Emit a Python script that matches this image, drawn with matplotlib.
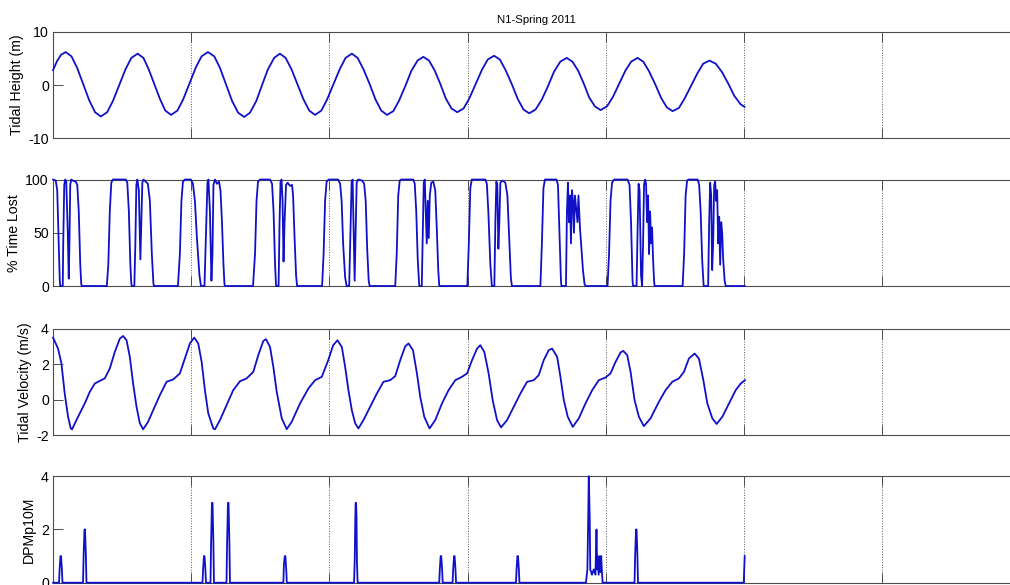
import numpy as np
import matplotlib
matplotlib.use('Agg')
from matplotlib import pyplot as plt

plt.rcParams['font.family'] = ['Liberation Sans', 'DejaVu Sans']
plt.rcParams['font.size'] = 10.2
plt.rcParams['axes.unicode_minus'] = False

# time axis in hours from start of record, 7 days shown, 5 days of data
day_ticks = np.arange(0, 169, 24)

# tidal height (m)
height_t = [0, 0.7, 1.4, 2.2, 3.2, 4.2, 5.25, 6.3, 7.3, 8.3, 9.4, 10.4, 11.5, 12.6, 13.6, 14.7,
            15.7, 16.6, 17.6, 18.6, 19.5, 20.5, 21.6, 22.6, 23.7, 24.8, 25.8, 26.9, 28.0, 29.0,
            30.05, 31.1, 32.15, 33.2, 34.2, 35.3, 36.3, 37.3, 38.4, 39.4, 40.4, 41.4, 42.45, 43.5,
            44.5, 45.5, 46.6, 47.6, 48.7, 49.8, 50.8, 51.9, 52.9, 53.9, 55.0, 56.0, 57.0, 58.0,
            59.1, 60.1, 61.2, 62.2, 63.3, 64.3, 65.3, 66.3, 67.3, 68.2, 69.2, 70.2, 71.3, 72.3,
            73.4, 74.5, 75.5, 76.6, 77.6, 78.6, 79.7, 80.7, 81.7, 82.7, 83.8, 84.9, 86.0, 87.0,
            88.1, 89.2, 90.2, 91.2, 92.2, 93.1, 94.1, 95.1, 96.2, 97.2, 98.3, 99.4, 100.4, 101.5,
            102.5, 103.5, 104.6, 105.6, 106.6, 107.6, 108.7, 109.7, 110.8, 111.9, 112.9, 114.0,
            115.1, 116.2, 117.3, 118.3, 119.4, 120.1]
height_m = [2.8, 4.5, 5.7, 6.2, 5.4, 3.2, 0.15, -2.9, -5.1, -5.9, -5.1, -3.0, 0.0, 3.0, 5.1, 5.9,
            5.1, 3.0, 0.15, -2.7, -4.8, -5.6, -4.8, -2.7, 0.3, 3.3, 5.4, 6.2, 5.4, 3.2,
            0.1, -3.0, -5.2, -6.0, -5.2, -3.0, 0.0, 2.9, 5.1, 5.9, 5.1, 3.0, 0.15, -2.7,
            -4.8, -5.6, -4.8, -2.7, 0.15, 3.0, 5.1, 5.9, 5.1, 3.0, 0.15, -2.7, -4.8, -5.6,
            -4.9, -2.9, -0.15, 2.6, 4.6, 5.3, 4.6, 2.7, 0.1, -2.5, -4.4, -5.1, -4.4, -2.5,
            0.2, 2.9, 4.8, 5.5, 4.8, 2.8, 0.1, -2.6, -4.6, -5.3, -4.6, -2.7, -0.1, 2.5,
            4.4, 5.1, 4.4, 2.7, 0.2, -2.3, -4.0, -4.7, -4.0, -2.3, 0.2, 2.7, 4.4, 5.1,
            4.4, 2.6, 0.1, -2.4, -4.2, -4.9, -4.3, -2.5, -0.15, 2.2, 4.0, 4.6,
            4.0, 2.4, 0.2, -2.0, -3.6, -4.1]

# percent of time lost
lost_t = [0.00, 0.47, 0.73, 0.99, 1.17, 1.25, 1.69, 1.77, 1.95, 2.12, 2.30, 2.56, 2.73, 2.85, 2.99, 3.17, 3.43, 3.95, 4.21, 4.47, 4.73, 4.90, 4.99,
          9.34, 9.60, 9.86, 10.12, 10.38, 12.64, 12.90, 13.17, 13.43, 13.60, 13.69, 14.12, 14.30, 14.47, 14.64, 14.90, 15.17, 15.34, 15.51, 15.69, 16.12, 16.47, 16.82, 17.16, 17.43, 17.51,
          21.69, 22.03, 22.30, 22.56, 22.90, 23.95, 24.30, 24.64, 24.99, 25.43, 25.69, 26.30, 26.56, 26.82, 26.99, 27.25, 27.51, 27.69, 27.86, 28.12, 28.47, 28.82, 29.08, 29.34, 29.60, 29.77, 29.86,
          34.73, 35.08, 35.34, 35.60, 35.95, 37.69, 38.04, 38.30, 38.56, 38.73, 39.17, 39.34, 39.51, 39.69, 39.86, 40.03, 40.21, 40.47, 40.73, 41.17, 41.51, 41.69, 41.95, 42.21, 42.38,
          46.73, 46.99, 47.25, 47.51, 47.86, 49.51, 49.86, 50.12, 50.38, 50.73, 50.99, 51.43, 51.69, 51.86, 52.03, 52.21, 52.38, 52.56, 52.73, 52.99, 53.69, 54.03, 54.30, 54.56, 54.82, 54.99,
          59.43, 59.69, 59.95, 60.21, 60.47, 62.56, 62.82, 63.08, 63.34, 63.60, 64.04, 64.21, 64.38, 64.56, 64.73, 64.90, 65.08, 65.25, 65.43, 65.69, 66.04, 66.38, 66.64, 66.90, 67.08,
          71.95, 72.21, 72.47, 72.73, 75.08, 75.34, 75.60, 75.95, 76.21, 76.64, 76.82, 76.99, 77.16, 77.34, 77.51, 77.69, 78.04, 78.56, 78.91, 79.25, 79.51, 79.69,
          84.64, 84.90, 85.17, 85.43, 87.43, 87.69, 87.95, 88.21, 88.30, 89.08, 89.25, 89.43, 89.60, 89.77, 89.95, 90.12, 90.30, 90.47, 90.64, 90.82, 91.08, 91.25, 91.51, 91.77, 92.03, 92.30, 92.47,
          96.30, 96.56, 96.82, 97.08, 97.43, 99.77, 100.12, 100.38, 100.64, 100.73, 101.34, 101.51, 101.69, 101.86, 102.12, 102.30, 102.47, 102.64, 102.82, 102.99, 103.17, 103.34, 103.51, 103.69, 103.86, 104.03, 104.21, 104.38, 104.47,
          109.34, 109.60, 109.86, 110.12, 110.38, 111.95, 112.21, 112.47, 112.73, 112.99, 113.77, 113.95, 114.12, 114.30, 114.47, 114.64, 114.82, 114.99, 115.17, 115.34, 115.51, 115.69, 115.86, 116.04, 116.21, 116.38, 116.64, 116.82, 120.12]
lost_pct = [100, 99, 90, 40, 5, 0, 0, 40, 95, 100, 98, 50, 7, 40, 95, 100, 99, 98, 95, 70, 20, 2, 0,
            0, 20, 70, 97, 100, 100, 97, 70, 20, 2, 0, 0, 40, 95, 100, 90, 25, 60, 97, 100, 98, 96, 80, 30, 3, 0,
            0, 30, 80, 98, 100, 100, 96, 80, 45, 10, 0, 0, 50, 97, 100, 70, 5, 30, 95, 100, 96, 98, 90, 60, 20, 2, 0,
            0, 30, 80, 98, 100, 100, 96, 70, 20, 0, 0, 60, 98, 100, 80, 23, 60, 95, 97, 94, 95, 85, 45, 10, 0,
            0, 30, 80, 98, 100, 100, 96, 80, 40, 8, 0, 0, 60, 98, 100, 50, 5, 50, 97, 100, 99, 96, 80, 35, 5, 0,
            0, 30, 85, 99, 100, 100, 96, 70, 25, 0, 0, 50, 97, 100, 70, 40, 80, 45, 85, 97, 98, 90, 55, 15, 0,
            0, 40, 92, 100, 100, 96, 70, 20, 0, 0, 60, 98, 95, 35, 60, 97, 99, 97, 85, 40, 8, 0,
            0, 40, 92, 100, 100, 95, 50, 5, 0, 0, 70, 97, 60, 85, 40, 90, 80, 50, 85, 75, 60, 85, 55, 35, 15, 2, 0,
            0, 30, 80, 97, 100, 100, 95, 60, 5, 0, 0, 50, 96, 90, 10, 0, 40, 95, 100, 96, 60, 85, 30, 70, 40, 55, 25, 5, 0,
            0, 30, 85, 99, 100, 100, 95, 70, 25, 0, 0, 60, 97, 85, 15, 40, 95, 98, 80, 90, 40, 65, 20, 60, 50, 25, 5, 0, 0]

# tidal velocity (m/s)
vel_t = [0.00, 0.87, 1.46, 2.03, 2.61, 3.08, 3.30, 4.35, 5.51, 6.38, 7.25, 8.12, 8.99, 9.86, 10.73,
         11.60, 12.17, 12.77, 13.34, 13.91, 14.50, 15.08, 15.65, 16.52, 17.39, 18.56, 19.72, 20.87,
         22.03, 22.90, 23.77, 24.52, 25.22, 25.81, 26.38, 26.96, 27.83, 28.12, 28.99, 30.16, 31.30,
         32.47, 33.63, 34.78, 35.65, 36.52, 36.99, 37.69, 38.26, 38.85, 39.72, 40.59, 41.46, 42.90,
         44.35, 45.51, 46.68, 47.83, 48.64, 49.39, 50.16, 50.73, 51.30, 51.89, 52.47, 53.04, 53.91,
         55.08, 56.24, 57.39, 58.56, 59.43, 60.30, 61.17, 61.74, 62.51, 63.20, 63.77, 64.47, 65.39,
         66.38, 67.55, 68.70, 69.86, 71.03, 71.90, 72.77, 73.64, 74.21, 74.90, 75.65, 76.35, 77.11,
         77.81, 78.85, 80.00, 81.17, 82.33, 83.48, 84.35, 85.22, 86.09, 86.68, 87.55, 88.12, 88.70,
         89.39, 90.26, 91.31, 92.47, 93.64, 94.78, 95.95, 96.82, 97.69, 98.56, 99.03, 99.72, 100.30,
         100.99, 101.74, 102.61, 103.77, 105.22, 106.38, 107.55, 108.70, 109.57, 110.43, 111.42,
         112.17, 112.94, 113.63, 114.50, 115.25, 116.24, 117.39, 118.56, 119.43, 120.17]
vel_ms = [3.49, 2.87, 2.03, 0.34, -0.97, -1.63, -1.68, -0.97, -0.22, 0.43, 0.90, 1.05, 1.19, 1.75, 2.68,
          3.43, 3.58, 3.34, 2.40, 0.90, -0.41, -1.34, -1.68, -1.25, -0.60, 0.25, 1.00, 1.13,
          1.47, 2.31, 3.16, 3.49, 3.16, 2.12, 0.53, -0.78, -1.63, -1.68, -1.16, -0.31, 0.53,
          1.03, 1.19, 1.56, 2.50, 3.30, 3.40, 2.96, 1.84, 0.43, -1.06, -1.67, -1.25, -0.22,
          0.62, 1.09, 1.28, 2.25, 3.05, 3.34, 2.96, 1.84, 0.53, -0.60, -1.34, -1.63, -1.16,
          -0.41, 0.34, 1.00, 1.09, 1.32, 2.22, 3.00, 3.16, 2.78, 1.47, 0.15, -0.97, -1.63,
          -1.16, -0.22, 0.53, 1.09, 1.28, 1.47, 2.22, 2.87, 3.06, 2.68, 1.47, -0.03, -1.16,
          -1.57, -1.16, -0.41, 0.34, 1.00, 1.09, 1.37, 2.22, 2.78, 2.87, 2.40, 1.28, -0.03,
          -0.97, -1.54, -1.06, -0.22, 0.53, 1.09, 1.24, 1.47, 2.12, 2.65, 2.74, 2.50, 1.56,
          -0.03, -0.97, -1.50, -1.06, -0.13, 0.53, 1.00, 1.19, 1.56, 2.31, 2.59,
          2.31, 1.09, -0.22, -1.06, -1.38, -0.97, -0.22, 0.53, 0.90, 1.09]

# porpoise detections (DPM per 10 min)
dpm_t = [0, 1.04, 1.14, 1.29, 1.39, 1.54, 1.64, 5.21, 5.31, 5.46, 5.56, 5.71, 5.81,
         25.96, 26.06, 26.21, 26.31, 26.46, 26.56, 27.35, 27.45, 27.60, 27.70, 27.85, 27.95,
         30.13, 30.23, 30.38, 30.48, 30.63, 30.73, 40.00, 40.10, 40.25, 40.35, 40.50, 40.60,
         52.28, 52.40, 52.48, 52.55, 52.63, 52.70, 52.78, 52.90,
         67.07, 67.17, 67.32, 67.42, 67.57, 67.67, 69.39, 69.49, 69.64, 69.74, 69.89, 69.99,
         80.40, 80.50, 80.65, 80.75, 80.90, 81.00,
         92.55, 92.80, 92.95, 93.04, 93.20, 93.30, 93.60, 93.90, 94.20, 94.38, 94.50,
         94.60, 94.75, 94.95, 95.08, 95.20, 95.35, 95.45,
         100.99, 101.09, 101.24, 101.34, 101.49, 101.59, 119.95, 120.12]
dpm_val = [0, 0, 0.5, 1, 1, 0.5, 0, 0, 1, 2, 2, 1, 0,
           0, 0.5, 1, 1, 0.5, 0, 0, 1.5, 3, 3, 1.5, 0,
           0, 1.5, 3, 3, 1.5, 0, 0, 0.7, 1, 1, 0.5, 0,
           0, 0.9, 2.2, 3, 3, 2.5, 0.8, 0,
           0, 0.5, 1, 1, 0.5, 0, 0, 0.5, 1, 1, 0.5, 0,
           0, 0.5, 1, 1, 0.5, 0,
           0, 0.5, 2.5, 4, 2.5, 0.5, 0.3, 0.5, 0.3, 2, 0.5,
           1, 0.3, 1, 0.4, 1, 0.3, 0,
           0, 1, 2, 2, 1, 0, 0, 1]

line_color = '#1010c8'
axis_color = '0.3'

fig = plt.figure(figsize=(10.1, 5.85), dpi=100)

panels = [
    (height_t, height_m, 'Tidal Height (m)', (-10, 10), [-10, 0, 10], 0.7636, -0.0298),
    (lost_t, lost_pct, '% Time Lost', (0, 100), [0, 50, 100], 0.5111, -0.0326),
    (vel_t, vel_ms, 'Tidal Velocity (m/s)', (-2, 4), [-2, 0, 2, 4], 0.2564, -0.0219),
    (dpm_t, dpm_val, 'DPMp10M', (0, 4), [0, 2, 4], 0.0039, -0.0178),
]

for i, (t, v, label, lim, ticks, bottom, lab_x) in enumerate(panels):
    ax = fig.add_axes([0.0525, bottom, 0.9578, 0.182])
    ax.plot(t, v, color=line_color, lw=1.3, clip_on=False, zorder=3)
    ax.set_xlim(0, 168)
    ax.set_ylim(*lim)
    ax.set_xticks(day_ticks)
    ax.set_xticklabels([])
    ax.set_yticks(ticks)
    ax.grid(axis='x', linestyle=':', color='0.35', lw=0.7)
    ax.tick_params(direction='in', length=7.5, width=0.7, colors=axis_color,
                   labelcolor='black', top=True, right=True, pad=3)
    for s in ax.spines.values():
        s.set_color(axis_color)
        s.set_linewidth(0.8)
    ax.set_ylabel(label)
    ax.yaxis.set_label_coords(lab_x, 0.5)
    if i == 0:
        ax.set_title('N1-Spring 2011', pad=6, fontsize=8.2)

fig.savefig('out.png', dpi=100)
